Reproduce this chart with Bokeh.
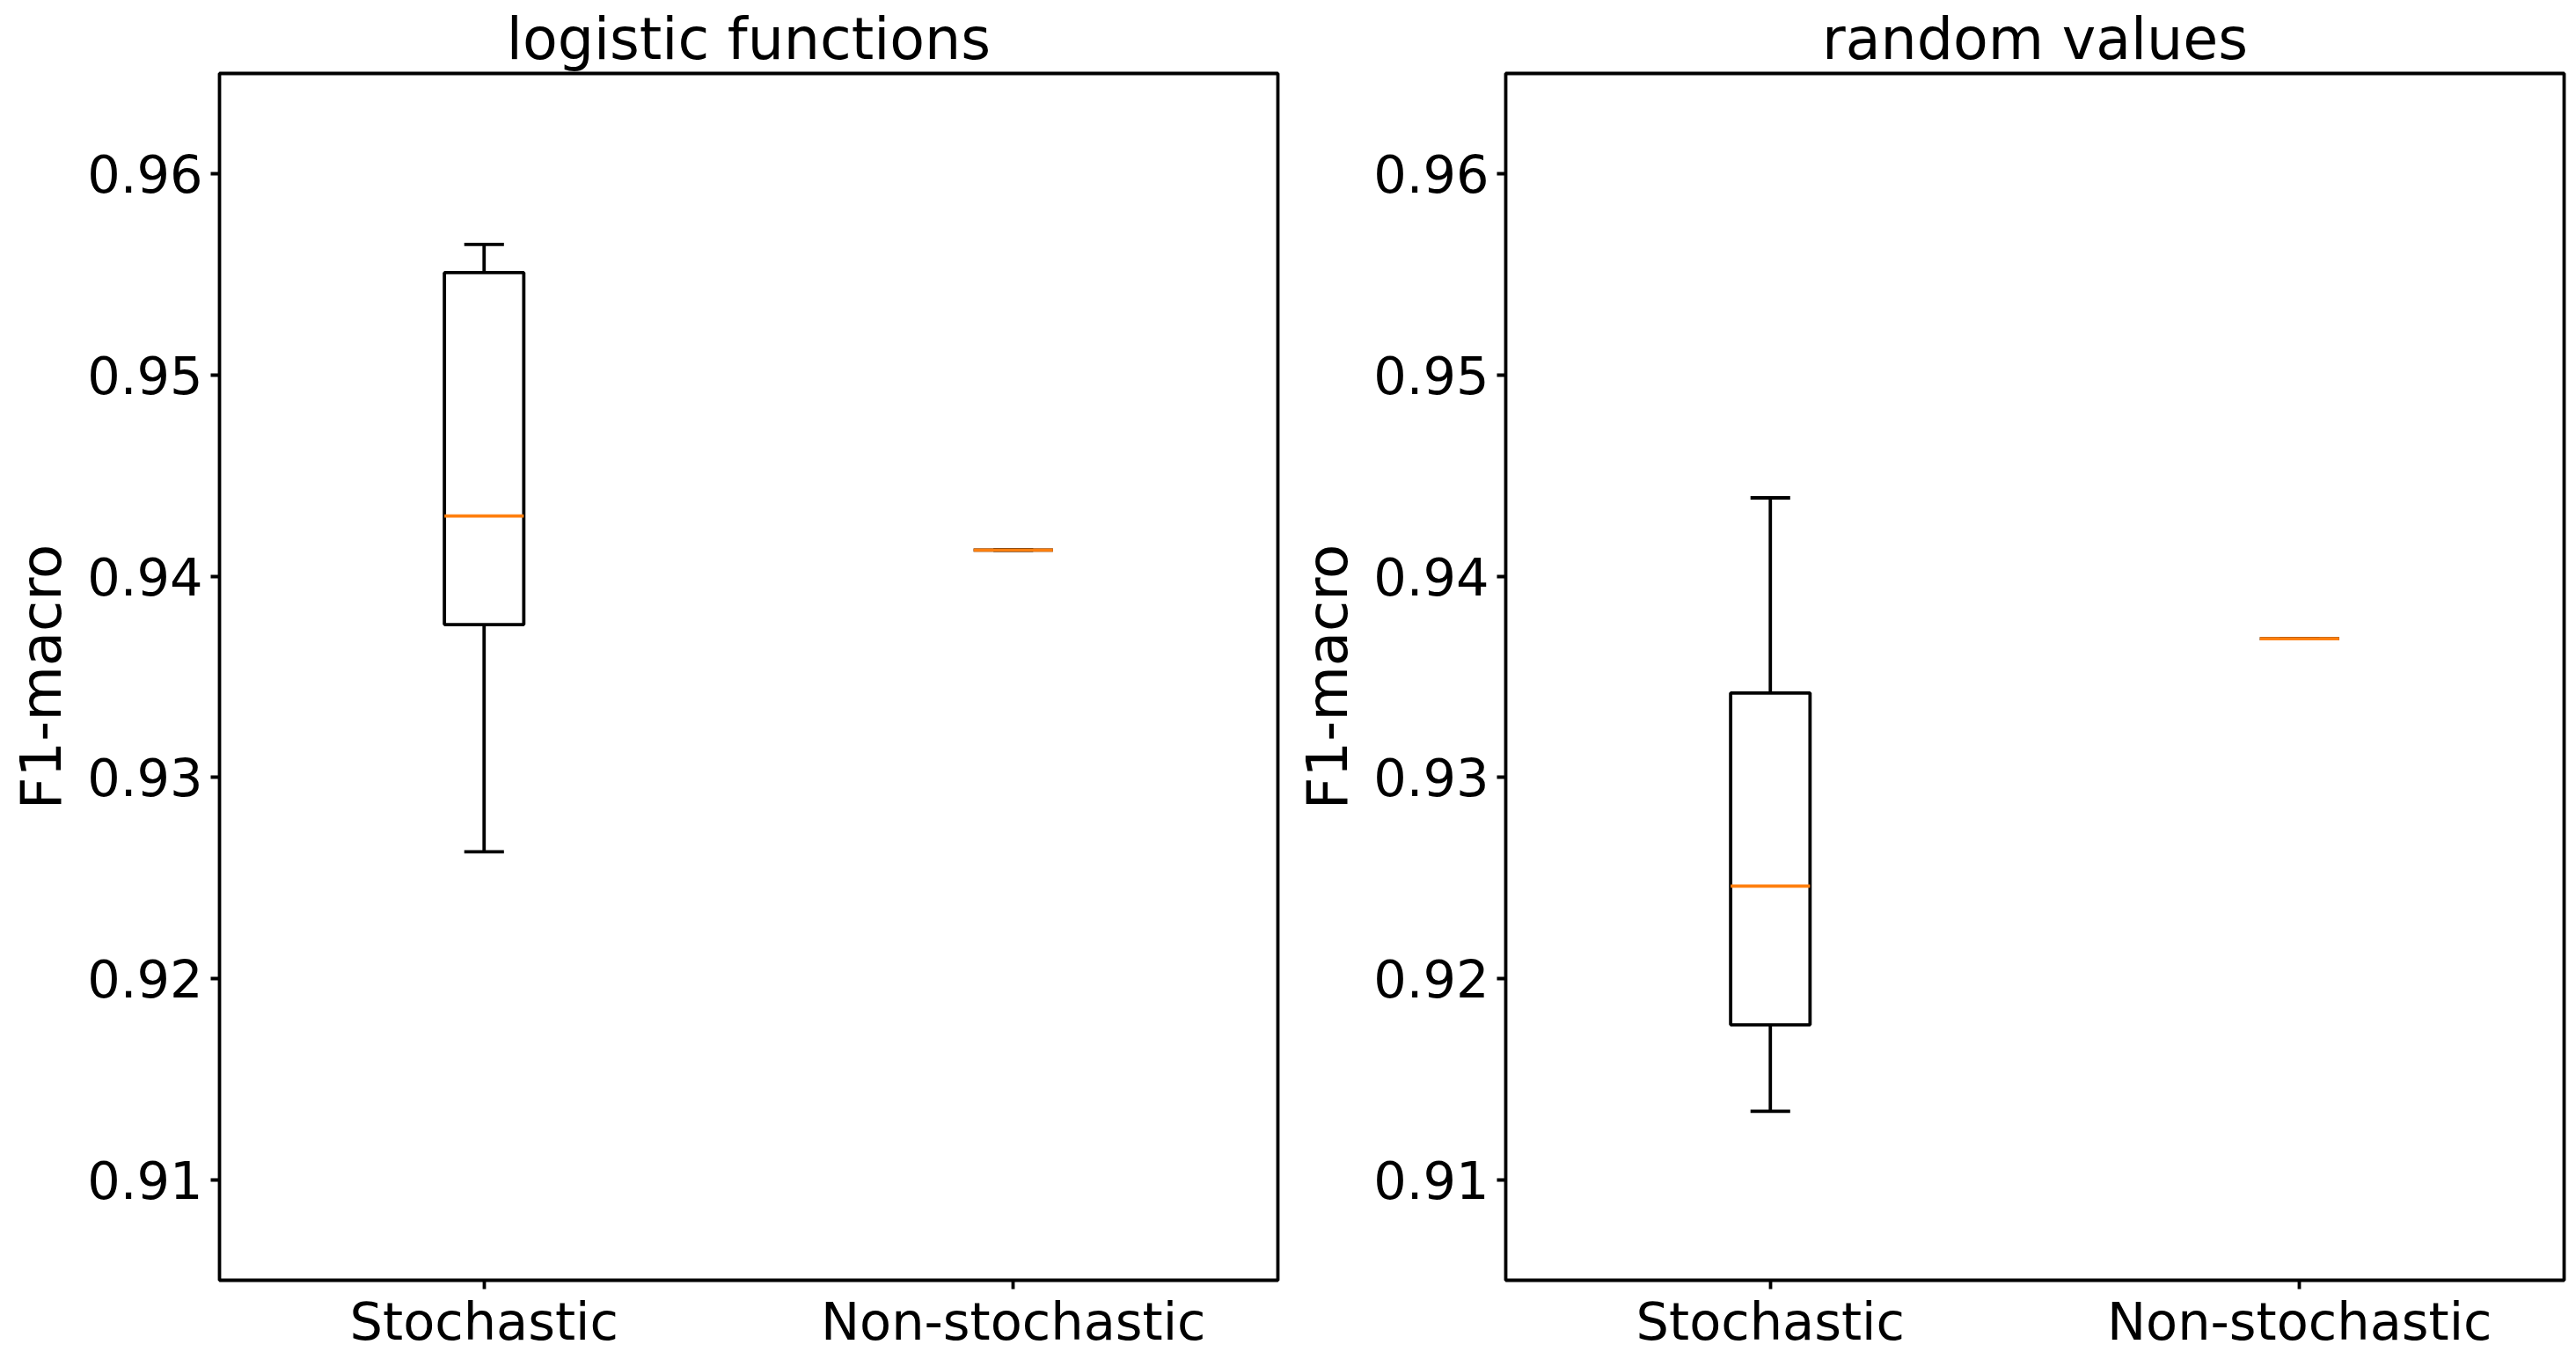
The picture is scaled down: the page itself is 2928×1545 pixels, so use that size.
from bokeh.plotting import figure
from bokeh.layouts import row
from bokeh.models import FixedTicker, Range1d, ColumnDataSource
from bokeh.embed import file_html
from bokeh.resources import INLINE

# ---- data ----
categories = ["Stochastic", "Non-stochastic"]
y_ticks = [0.91, 0.92, 0.93, 0.94, 0.95, 0.96]
y_tick_labels = ["0.91", "0.92", "0.93", "0.94", "0.95", "0.96"]
y_label = "F1-macro"
titles = ["logistic functions", "random values"]

logistic_whisker_low = [0.9263, 0.9413]
logistic_q1 = [0.9376, 0.9413]
logistic_median = [0.9430, 0.9413]
logistic_q3 = [0.9551, 0.9413]
logistic_whisker_high = [0.9565, 0.9413]

random_whisker_low = [0.9134, 0.9369]
random_q1 = [0.9177, 0.9369]
random_median = [0.9246, 0.9369]
random_q3 = [0.9342, 0.9369]
random_whisker_high = [0.9439, 0.9369]

FONT = "DejaVu Sans"
BOX_W = 0.15
CAP_W = 0.075
LW = 3.8
ORANGE = "#ff7f0e"


def make_panel(title, low, q1, med, q3, high, border_left, border_right):
    pos = list(range(1, len(categories) + 1))
    src = ColumnDataSource(dict(
        x=pos,
        left=[p - BOX_W / 2 for p in pos],
        right=[p + BOX_W / 2 for p in pos],
        cl=[p - CAP_W / 2 for p in pos],
        cr=[p + CAP_W / 2 for p in pos],
        low=low, q1=q1, med=med, q3=q3, high=high,
    ))
    p = figure(
        frame_width=1203, frame_height=1372,
        x_range=Range1d(0.5, 2.5), y_range=Range1d(0.905, 0.965),
        output_backend="svg", toolbar_location=None,
        min_border_left=border_left, min_border_right=border_right,
        min_border_top=83, min_border_bottom=66,
        title=title,
    )
    p.title.text_font = FONT
    p.title.text_font_size = "65px"
    p.title.text_font_style = "normal"
    p.title.align = "center"
    p.title.standoff = 3
    p.title.text_color = "black"

    p.outline_line_color = "black"
    p.outline_line_width = LW
    p.outline_line_alpha = 1.0
    p.grid.visible = False
    p.background_fill_color = "white"
    p.border_fill_color = "white"

    for ax in (p.xaxis, p.yaxis):
        ax.axis_line_color = None
        ax.minor_tick_line_color = None
        ax.major_tick_in = 0
        ax.major_tick_out = 10
        ax.major_tick_line_width = LW
        ax.major_tick_line_color = "black"
        ax.major_label_text_font = FONT
        ax.major_label_text_font_size = "59px"
        ax.major_label_text_color = "black"

    p.xaxis.ticker = FixedTicker(ticks=pos)
    p.xaxis.major_label_overrides = {pp: c for pp, c in zip(pos, categories)}
    p.xaxis.major_label_standoff = 2

    p.yaxis.ticker = FixedTicker(ticks=y_ticks)
    p.yaxis.major_label_overrides = {t: l for t, l in zip(y_ticks, y_tick_labels)}
    p.yaxis.major_label_standoff = 9
    p.yaxis.axis_label = y_label
    p.yaxis.axis_label_text_font = FONT
    p.yaxis.axis_label_text_font_size = "64px"
    p.yaxis.axis_label_text_font_style = "normal"
    p.yaxis.axis_label_text_color = "black"
    p.yaxis.axis_label_standoff = 12

    # whiskers
    p.segment(x0="x", y0="q3", x1="x", y1="high", source=src, line_color="black", line_width=LW)
    p.segment(x0="x", y0="q1", x1="x", y1="low", source=src, line_color="black", line_width=LW)
    # caps
    p.segment(x0="cl", y0="high", x1="cr", y1="high", source=src, line_color="black", line_width=LW)
    p.segment(x0="cl", y0="low", x1="cr", y1="low", source=src, line_color="black", line_width=LW)
    # box
    p.quad(left="left", right="right", bottom="q1", top="q3", source=src,
           fill_color=None, line_color="black", line_width=LW)
    # median
    p.segment(x0="left", y0="med", x1="right", y1="med", source=src, line_color=ORANGE, line_width=LW)
    return p


p1 = make_panel(titles[0], logistic_whisker_low, logistic_q1, logistic_median,
                logistic_q3, logistic_whisker_high, 249, 17)
p2 = make_panel(titles[1], random_whisker_low, random_q1, random_median,
                random_q3, random_whisker_high, 242, 6)

layout = row(p1, p2)
open("out.html", "w").write(file_html(layout, INLINE))
